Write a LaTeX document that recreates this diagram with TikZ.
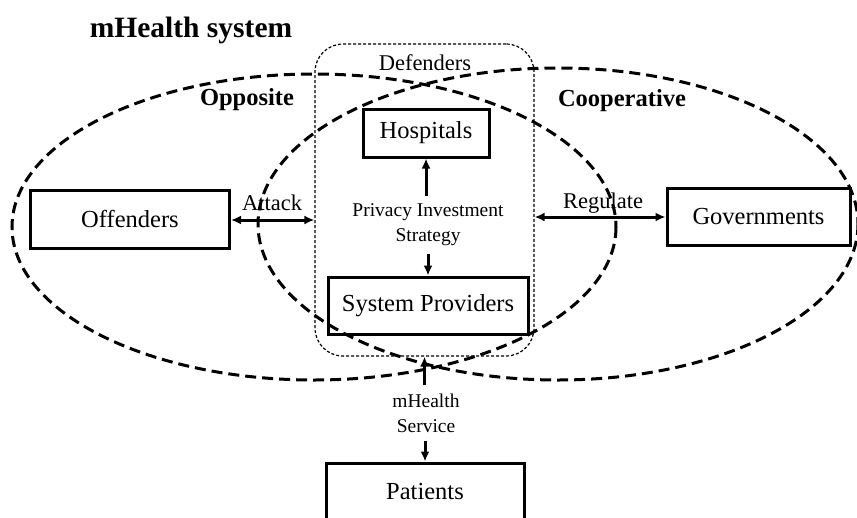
\documentclass[tikz,border=0pt]{standalone}
\usepackage{fontspec}
\setmainfont{Liberation Serif}
\usetikzlibrary{arrows.meta}
\begin{document}
\begin{tikzpicture}[x=1pt,y=-1pt,
  box/.style={draw,line width=3pt,inner sep=0pt,font=\fontsize{24.5}{28}\selectfont},
  zone/.style={draw,line width=3pt,dash pattern=on 11pt off 6pt},
  lbl/.style={inner sep=0pt,font=\fontsize{22.5}{26}\selectfont},
  small/.style={inner sep=0pt,align=center,font=\fontsize{19.5}{25}\selectfont},
  bold/.style={inner sep=0pt,font=\fontsize{24.5}{28}\selectfont\bfseries},
  tip/.tip={Latex[length=10pt,width=9pt]},
  link/.style={line width=3pt,-tip},
  link2/.style={line width=3pt,tip-tip}]
\useasboundingbox (0,0) rectangle (857,517);
\clip (0,0) rectangle (857,517);

% title
\node[inner sep=0pt,font=\fontsize{29.5}{32}\selectfont\bfseries] (title) at (191,30) {mHealth system};

% the two overlapping groups
\draw[zone] (314,227) ellipse [x radius=302, y radius=153];
\draw[zone] (558,224) ellipse [x radius=300, y radius=156];
\node[bold] (opp) at (247,100) {Opposite};
\node[bold] (coop) at (622,101) {Cooperative};

% defenders frame
\node[draw,line width=1.2pt,dash pattern=on 3pt off 2pt,rounded corners=28pt,
      minimum width=219pt,minimum height=312pt,inner sep=0pt] (def) at (424.5,200) {};
\node[lbl] (deflbl) at (425,63) {Defenders};

% actors
\node[box,minimum width=126pt,minimum height=48pt] (hosp) at (426,133) {Hospitals};
\node[box,minimum width=200pt,minimum height=57pt] (sp) at (428,305.5) {System Providers};
\node[box,minimum width=199pt,minimum height=58pt] (off) at (130,219) {Offenders};
\node[box,minimum width=183pt,minimum height=57pt] (gov) at (758.5,216.5) {Governments};
\node[box,minimum width=198pt,minimum height=58pt] (pat) at (425,492) {Patients};

% strategy inside the defenders frame
\node[small,inner ysep=8pt] (pis) at (428,225) {Privacy Investment\\Strategy};
\draw[link] (pis.north -| hosp.south) -- (hosp.south);
\draw[link] (pis.south -| sp.north) -- (sp.north);

% relations to offenders and governments
\draw[link2] (off.east |- 0,220) -- (def.west |- 0,220);
\node[lbl] (att) at (272,203) {Attack};
\draw[link2] (def.east |- 0,217) -- (gov.west |- 0,217);
\node[lbl] (reg) at (603,203) {Regulate};

% service to patients
\node[small,inner ysep=8pt] (svc) at (426,413) {mHealth\\Service};
\draw[link] (svc.north -| def.south) -- (def.south);
\draw[link] (svc.south -| pat.north) -- (pat.north);
\end{tikzpicture}
\end{document}
